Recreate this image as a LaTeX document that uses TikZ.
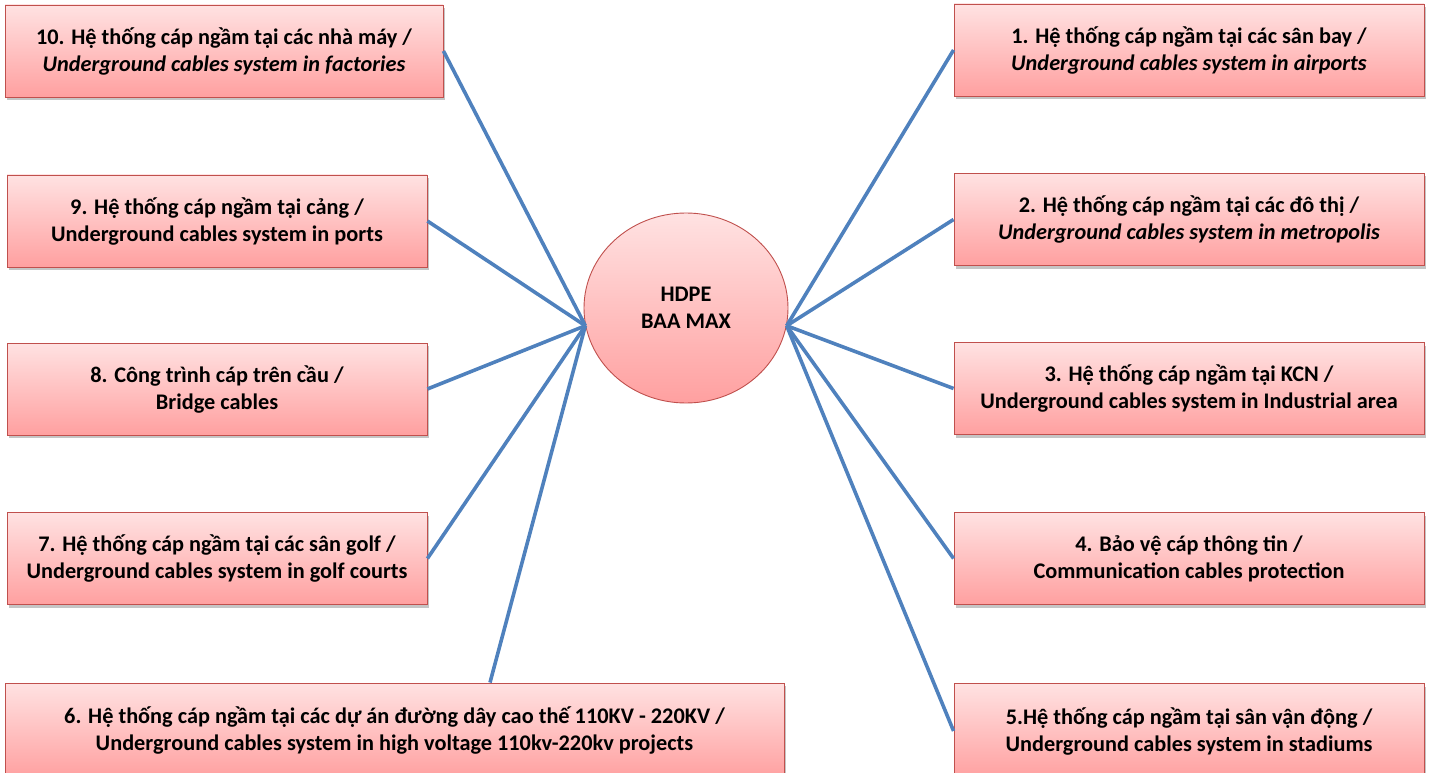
\documentclass[tikz,border=0pt]{standalone}
\usepackage{fontspec}
\setmainfont{Carlito}
\usetikzlibrary{shapes.geometric,shadows}
\definecolor{boxtop}{RGB}{255,226,226}
\definecolor{boxbot}{RGB}{255,160,160}
\definecolor{boxline}{RGB}{192,80,77}
\definecolor{wire}{RGB}{79,129,189}
\begin{document}
\begin{tikzpicture}[x=1pt,y=-1pt,
  usebox/.style={draw=boxline,line width=0.9pt,top color=boxtop,bottom color=boxbot,
    minimum height=92pt,inner sep=0pt,align=center,
    font=\fontsize{22.3}{27}\selectfont\bfseries,
    drop shadow={shadow xshift=2pt,shadow yshift=-3pt,fill=black!45,opacity=0.5}},
  hub/.style={ellipse,draw=boxline,line width=0.9pt,top color=boxtop,bottom color=boxbot,
    minimum width=204pt,minimum height=190pt,inner sep=0pt,align=center,
    font=\fontsize{22.3}{27}\selectfont\bfseries},
  wireline/.style={draw=wire,line width=3.6pt}]
  \useasboundingbox (0,0) rectangle (1430,773);

  \node[hub] (hdpe) at (686,308) {HDPE\\BAA MAX};

  % left side
  \node[usebox,minimum width=438pt] (b10) at (224,51) {10. Hệ thống cáp ngầm tại các nhà máy /\\\textit{Underground cables system in factories}};
  \node[usebox,minimum width=420pt] (b9) at (217,221) {9. Hệ thống cáp ngầm tại cảng /\\Underground cables system in ports};
  \node[usebox,minimum width=420pt] (b8) at (217,389) {8. Công trình cáp trên cầu /\\Bridge cables};
  \node[usebox,minimum width=420pt] (b7) at (217,558.5) {7. Hệ thống cáp ngầm tại các sân golf /\\Underground cables system in golf courts};
  \node[usebox,minimum width=779pt,minimum height=95pt] (b6) at (394.5,730.5) {6. Hệ thống cáp ngầm tại các dự án đường dây cao thế 110KV - 220KV /\\Underground cables system in high voltage 110kv-220kv projects};

  % right side
  \node[usebox,minimum width=470pt] (b1) at (1189,50) {1. Hệ thống cáp ngầm tại các sân bay /\\\textit{Underground cables system in airports}};
  \node[usebox,minimum width=470pt] (b2) at (1189,219.5) {2. Hệ thống cáp ngầm tại các đô thị /\\\textit{Underground cables system in metropolis}};
  \node[usebox,minimum width=470pt] (b3) at (1189,388.5) {3. Hệ thống cáp ngầm tại KCN /\\Underground cables system in Industrial area};
  \node[usebox,minimum width=470pt] (b4) at (1189,558.5) {4. Bảo vệ cáp thông tin /\\Communication cables protection};
  \node[usebox,minimum width=470pt,minimum height=95pt] (b5) at (1189,731) {5.Hệ thống cáp ngầm tại sân vận động /\\Underground cables system in stadiums};

  \foreach \b in {b10,b9,b8,b7}
    \draw[wireline] (hdpe.190) -- (\b.east);
  \draw[wireline] (hdpe.190) -- ([xshift=95.5pt]b6.north);
  \foreach \b in {b1,b2,b3,b4,b5}
    \draw[wireline] (hdpe.350) -- (\b.west);
\end{tikzpicture}
\end{document}
